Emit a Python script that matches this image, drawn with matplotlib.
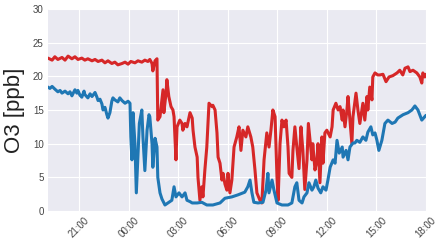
import pandas as pd
import matplotlib
matplotlib.use("Agg")
import matplotlib.pyplot as plt
import matplotlib.dates as mdates

# minutes after 19:00 on the first day, values in ppb
red_min = [7, 22, 32, 43, 58, 69, 80, 94, 105, 116, 130, 141, 152, 167, 178, 189, 203, 214, 225, 239,
           250, 261, 276, 287, 298, 308, 323, 334, 348, 359, 370, 377, 385, 388, 396, 403, 406, 414, 425, 428,
           436, 439, 446, 454, 461, 465, 472, 476, 486, 494, 497, 505, 512, 523, 531, 534, 541, 549, 552, 559,
           566, 570, 577, 584, 592, 603, 606, 614, 621, 625, 632, 639, 643, 650, 657, 661, 668, 675, 683, 693,
           701, 708, 715, 726, 733, 744, 751, 759, 766, 777, 784, 792, 802, 810, 817, 824, 832, 839, 843, 850,
           857, 864, 872, 879, 883, 893, 897, 904, 911, 919, 926, 933, 940, 948, 953, 959, 966, 969, 977, 984,
           988, 995, 1002, 1006, 1013, 1020, 1032, 1039, 1043, 1053, 1061, 1068, 1076, 1079, 1086, 1093, 1097,
           1104, 1111, 1115, 1126, 1133, 1140, 1151, 1158, 1166, 1169, 1176, 1184, 1187, 1195, 1205, 1213,
           1224, 1235, 1246, 1260, 1275, 1285, 1296, 1304, 1315, 1322, 1333, 1347, 1358, 1365, 1369, 1376, 1380]
red_o3 = [22.7, 22.4, 22.9, 22.5, 22.8, 22.4, 23.0, 22.6, 22.9, 22.5, 22.7, 22.4, 22.6, 22.3, 22.5, 22.2,
          22.4, 22.0, 22.3, 21.9, 22.1, 21.7, 21.9, 22.1, 21.8, 22.2, 22.0, 22.3, 22.1, 22.4, 22.2, 22.5,
          21.9, 20.8, 22.3, 22.6, 13.5, 14.0, 18.0, 14.6, 17.5, 19.5, 17.0, 15.5, 15.0, 14.0, 7.6, 12.5,
          13.5, 13.0, 12.0, 13.0, 12.5, 14.6, 13.8, 12.0, 9.5, 8.0, 5.0, 1.6, 3.6, 2.1, 6.1, 9.5, 16.0,
          15.5, 15.7, 15.0, 11.6, 8.0, 7.1, 4.6, 5.6, 4.0, 3.1, 5.6, 2.7, 4.6, 9.5, 11.0, 12.5, 9.0, 12.0,
          11.0, 12.5, 11.0, 9.5, 6.1, 2.7, 1.6, 1.2, 7.6, 11.6, 9.5, 12.0, 15.0, 14.0, 5.0, 1.6, 10.0,
          13.5, 12.5, 13.5, 9.5, 5.6, 5.0, 9.0, 12.5, 9.5, 6.3, 12.5, 9.0, 3.2, 7.6, 13.0, 10.5, 7.6,
          10.0, 6.1, 7.5, 10.0, 4.2, 11.0, 7.1, 11.6, 12.0, 11.0, 12.5, 15.0, 16.0, 15.0, 15.5, 13.5,
          15.0, 12.5, 15.0, 17.0, 13.5, 10.0, 14.0, 17.5, 15.0, 13.0, 16.0, 13.5, 17.0, 15.0, 18.4,
          16.5, 19.9, 20.5, 20.2, 20.2, 20.3, 19.2, 19.9, 20.1, 20.5, 20.9, 20.2, 21.2, 21.4, 20.7,
          20.9, 20.5, 19.9, 19.0, 20.5, 19.9, 20.3]

blue_min = [7, 14, 22, 32, 43, 51, 58, 69, 80, 87, 94, 105, 112, 116, 123, 130, 138, 141, 152, 160,
            167, 178, 185, 189, 196, 203, 207, 214, 221, 225, 232, 239, 243, 250, 261, 268, 276, 287, 298,
            305, 308, 312, 316, 323, 328, 334, 339, 348, 352, 359, 367, 374, 377, 385, 388, 396, 403, 406,
            414, 421, 432, 443, 457, 465, 472, 483, 494, 505, 512, 523, 531, 549, 566, 584, 606, 632, 650,
            675, 697, 722, 733, 741, 748, 755, 770, 788, 799, 806, 810, 821, 828, 839, 857, 879, 893, 904,
            911, 919, 930, 937, 948, 955, 966, 973, 980, 988, 998, 1006, 1017, 1024, 1032, 1043, 1050,
            1057, 1065, 1076, 1079, 1090, 1097, 1104, 1115, 1122, 1129, 1140, 1151, 1162, 1169, 1180,
            1187, 1195, 1202, 1209, 1220, 1231, 1242, 1257, 1268, 1278, 1297, 1315, 1329, 1340, 1351,
            1365, 1376, 1380]
blue_o3 = [18.4, 18.2, 18.5, 18.1, 17.7, 17.9, 17.5, 17.8, 17.4, 17.7, 17.1, 18.0, 17.5, 17.9, 17.2,
           16.9, 17.8, 17.3, 16.8, 17.4, 17.0, 17.6, 16.9, 16.4, 16.6, 15.9, 15.0, 15.4, 14.3, 13.8, 14.6,
           16.3, 16.8, 16.5, 16.2, 16.8, 16.4, 16.0, 16.3, 16.0, 11.0, 7.6, 14.6, 10.0, 2.7, 8.5, 13.0,
           15.0, 11.0, 6.0, 12.0, 14.3, 14.0, 10.0, 6.5, 10.8, 9.5, 5.0, 2.7, 1.8, 0.9, 1.2, 1.6, 3.6,
           2.1, 2.7, 2.1, 2.7, 1.6, 1.4, 1.2, 1.2, 1.3, 0.9, 0.9, 1.2, 1.9, 2.1, 2.4, 2.8, 3.6, 4.6, 2.7,
           1.3, 1.2, 1.3, 3.1, 5.6, 2.7, 4.6, 3.1, 1.2, 0.9, 0.9, 1.2, 3.6, 4.2, 1.6, 1.2, 2.1, 2.7, 4.2,
           3.1, 3.6, 4.6, 3.4, 2.7, 3.6, 3.1, 4.6, 6.5, 7.6, 7.1, 10.5, 8.6, 9.5, 8.0, 9.0, 7.6, 9.5,
           10.1, 10.1, 10.5, 10.2, 11.0, 10.5, 11.7, 12.5, 11.3, 11.6, 10.5, 9.0, 10.5, 13.0, 13.5, 13.0,
           13.2, 13.8, 14.3, 14.6, 15.0, 15.6, 15.0, 13.5, 14.0, 14.2]

start = pd.Timestamp("2019-07-01 19:00")
red_t = start + pd.to_timedelta(red_min, unit="min")
blue_t = start + pd.to_timedelta(blue_min, unit="min")

plt.style.use("seaborn-v0_8-darkgrid")
fig = plt.figure(figsize=(4.4, 2.48), dpi=100)
ax = fig.add_axes([0.109, 0.149, 0.859, 0.815])

ax.plot(red_t, red_o3, color="#d62728", lw=2.2)
ax.plot(blue_t, blue_o3, color="#1f77b4", lw=2.2)

ax.set_ylim(0, 30)
ax.set_yticks(range(0, 31, 5))
ax.set_xlim(red_t[0], red_t[-1])
ax.xaxis.set_major_locator(mdates.HourLocator(byhour=range(0, 24, 3)))
ax.xaxis.set_major_formatter(mdates.DateFormatter("%H:%M"))
ax.tick_params(axis="both", labelsize=7, colors="#444444", pad=3)
plt.setp(ax.get_xticklabels(), rotation=45)
ax.set_ylabel("O3 [ppb]", fontsize=16, color="#222222", labelpad=6)

fig.savefig("out.png", dpi=100)
